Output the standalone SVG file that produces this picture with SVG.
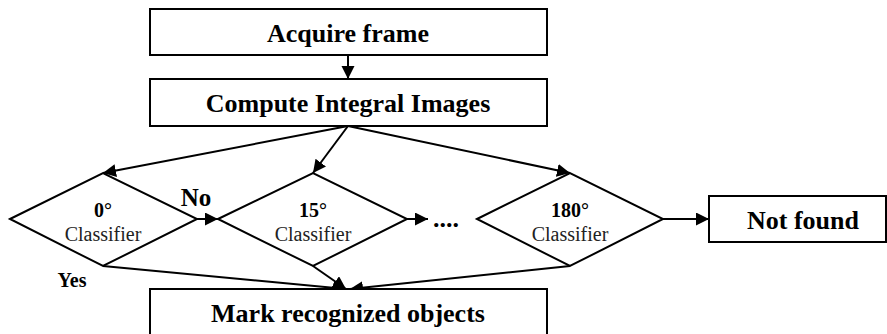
<svg xmlns="http://www.w3.org/2000/svg" width="887" height="334" viewBox="0 0 887 334">
  <style>
    .box { fill: #fff; stroke: #000; stroke-width: 2; }
    .dia { fill: none; stroke: #000; stroke-width: 2; stroke-linejoin: miter; }
    .edge { fill: none; stroke: #000; stroke-width: 2; marker-end: url(#arrow); }
    .title { font-family: "Liberation Serif", "Times New Roman", serif; font-weight: bold; font-size: 26px; text-anchor: middle; fill: #000; }
    .angle { font-family: "Liberation Serif", "Times New Roman", serif; font-weight: bold; font-size: 20px; text-anchor: middle; fill: #000; }
    .cls { font-family: "Liberation Serif", "Times New Roman", serif; font-size: 20px; text-anchor: middle; fill: #222; }
    .lbl { font-family: "Liberation Serif", "Times New Roman", serif; font-weight: bold; fill: #000; }
  </style>
  <defs>
    <marker id="arrow" markerUnits="userSpaceOnUse" markerWidth="14" markerHeight="14" refX="13" refY="6.5" orient="auto">
      <path d="M0,0 L13,6.5 L0,13 z" fill="#000"/>
    </marker>
  </defs>
  <rect width="887" height="334" fill="#fff"/>

  <g id="connectors">
    <line class="edge" x1="348" y1="55" x2="348" y2="79"/>
    <line class="edge" x1="348" y1="126" x2="103" y2="173"/>
    <line class="edge" x1="348" y1="126" x2="313" y2="173"/>
    <line class="edge" x1="348" y1="126" x2="570" y2="173"/>
    <line class="edge" x1="197" y1="219" x2="218" y2="219"/>
    <line class="edge" x1="407" y1="219" x2="428" y2="219"/>
    <line class="edge" x1="663" y1="219" x2="709" y2="219"/>
    <line class="edge" x1="103" y1="266" x2="346" y2="289"/>
    <line class="edge" x1="313" y1="266" x2="346" y2="289"/>
    <line class="edge" x1="570" y1="266" x2="350" y2="289"/>
    <text class="lbl" x="196" y="206" font-size="25" text-anchor="middle">No</text>
    <text class="lbl" x="72" y="287" font-size="20" text-anchor="middle">Yes</text>
    <text class="lbl" x="446" y="227" font-size="26" text-anchor="middle">....</text>
  </g>

  <g id="acquire">
    <rect class="box" x="150" y="9" width="397" height="46"/>
    <text class="title" x="348" y="42">Acquire frame</text>
  </g>

  <g id="integral">
    <rect class="box" x="150" y="79" width="397" height="47"/>
    <text class="title" x="348" y="112">Compute Integral Images</text>
  </g>

  <g id="clf0">
    <polygon class="dia" points="10,219 103,173 197,219 103,266"/>
    <text class="angle" x="103" y="217">0°</text>
    <text class="cls" x="103" y="241">Classifier</text>
  </g>

  <g id="clf15">
    <polygon class="dia" points="218,219 313,173 407,219 313,266"/>
    <text class="angle" x="313" y="217">15°</text>
    <text class="cls" x="313" y="241">Classifier</text>
  </g>

  <g id="clf180">
    <polygon class="dia" points="477,219 570,173 663,219 570,266"/>
    <text class="angle" x="570" y="217">180°</text>
    <text class="cls" x="570" y="241">Classifier</text>
  </g>

  <g id="notfound">
    <rect class="box" x="709" y="196" width="177" height="46"/>
    <text class="title" x="803" y="229">Not found</text>
  </g>

  <g id="mark">
    <rect class="box" x="150" y="289" width="397" height="52"/>
    <text class="title" x="348" y="322">Mark recognized objects</text>
  </g>
</svg>
